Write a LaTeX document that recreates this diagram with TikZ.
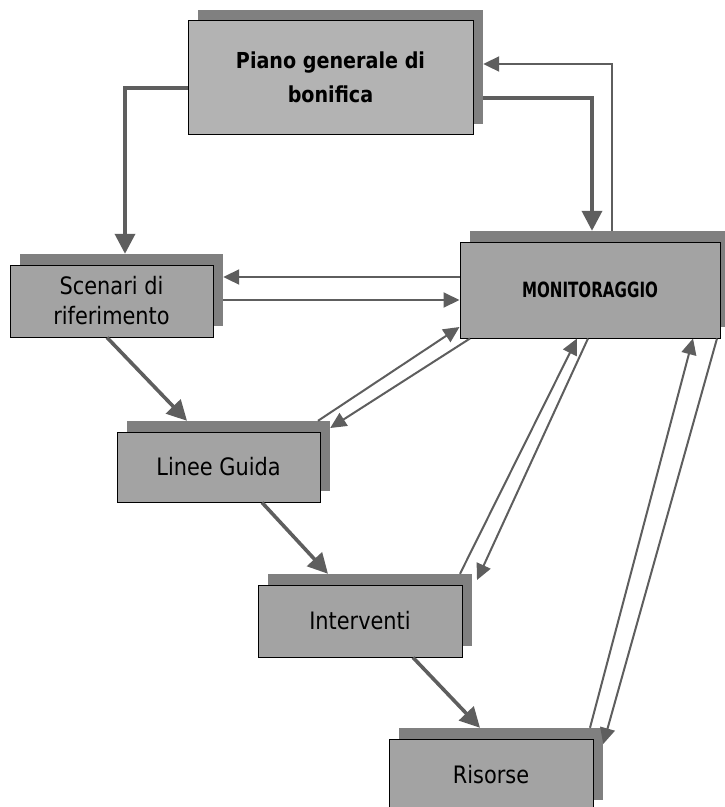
\documentclass[tikz,border=0pt]{standalone}
\usepackage{fontspec}
\setmainfont{DejaVu Sans}[FakeStretch=0.87]
\newfontfamily\capsfont{DejaVu Sans}[FakeStretch=0.72]
\usetikzlibrary{arrows.meta}

\definecolor{boxfill}{HTML}{A3A3A3}
\definecolor{topfill}{HTML}{B3B3B3}
\definecolor{shadowfill}{HTML}{808080}
\definecolor{arrowgray}{HTML}{5E5E5E}

\begin{document}
\begin{tikzpicture}[x=1pt, y=-1pt,
  box/.style={draw=black, line width=1pt, fill=boxfill, inner sep=0pt,
    align=center, font=\fontsize{24}{30}\selectfont},
  backbox/.style={fill=shadowfill, inner sep=0pt},
  heavy/.style={draw=arrowgray, line width=3.6pt,
    -{Triangle[length=20pt,width=20pt]}},
  light/.style={draw=arrowgray, line width=2pt,
    -{Triangle[length=16pt,width=15pt]}}]

\useasboundingbox (0,0) rectangle (725,807);

% offset backing panels
\node[backbox, minimum width=285pt, minimum height=114pt] (pianoS)  at (340.5,66.5) {};
\node[backbox, minimum width=203pt, minimum height=72pt]  (scenS)   at (121.5,290) {};
\node[backbox, minimum width=260pt, minimum height=96pt]  (monS)    at (600,279) {};
\node[backbox, minimum width=203pt, minimum height=70pt]  (lineeS)  at (228.5,456) {};
\node[backbox, minimum width=204pt, minimum height=72pt]  (intervS) at (370,610) {};
\node[backbox, minimum width=204pt, minimum height=72pt]  (risS)    at (501,764) {};

% boxes
\node[box, fill=topfill, minimum width=285pt, minimum height=114pt,
  font=\bfseries\fontsize{22}{34}\selectfont] (piano) at (330.5,77.5)
  {Piano generale di\\bonifica};
\node[box, minimum width=203pt, minimum height=72pt] (scen) at (111.5,301)
  {Scenari di\\riferimento};
\node[box, minimum width=260pt, minimum height=96pt,
  font=\capsfont\bfseries\fontsize{21}{24}\selectfont] (mon) at (590,290)
  {MONITORAGGIO};
\node[box, minimum width=203pt, minimum height=70pt] (linee) at (218.5,467)
  {Linee Guida};
\node[box, minimum width=204pt, minimum height=72pt] (interv) at (360,621)
  {Interventi};
\node[box, minimum width=204pt, minimum height=72pt] (ris) at (491,775)
  {Risorse};

% connectors
\draw[heavy] (piano.west |- 0,88) -| (scenS.north -| 125,0);
\draw[heavy] (pianoS.east |- 0,98) -| (monS.north -| 592,0);
\draw[light] (monS.north -| 612,0) |- (pianoS.east |- 0,64);

\draw[light] (mon.west |- 0,277) -- (scenS.east |- 0,277);
\draw[light] (scenS.east |- 0,300) -- (mon.west |- 0,300);

\draw[heavy] (scen.south -| 107,0) -- (lineeS.north -| 187,0);
\draw[light] (lineeS.north -| 318,0) -- (mon.west |- 0,327);
\draw[light] (mon.south -| 470,0) -- (lineeS.east |- 0,428);

\draw[heavy] (linee.south -| 262,0) -- (intervS.north -| 328,0);
\draw[light] (intervS.north -| 460,0) -- (mon.south -| 577,0);
\draw[light] (mon.south -| 588,0) -- (477,580);

\draw[heavy] (interv.south -| 413,0) -- (risS.north -| 480,0);
\draw[light] (risS.north -| 590,0) -- (mon.south -| 693,0);
\draw[light] (mon.south -| 717,0) -- (risS.east |- 0,744);
\end{tikzpicture}
\end{document}
